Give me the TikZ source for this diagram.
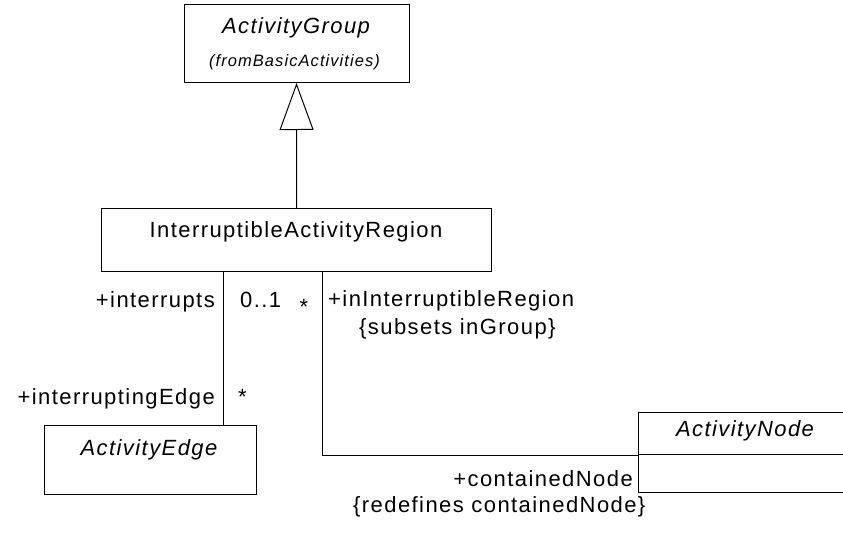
\documentclass[tikz,border=0pt]{standalone}
\usepackage{fontspec}
\setmainfont{Liberation Sans}[LetterSpace=6.5]
\usetikzlibrary{arrows.meta}
\newcommand\umlfont{\fontsize{22}{26}\selectfont}
\tikzset{>=Stealth,every node/.style={font=\umlfont,inner sep=0pt},txt/.style={anchor=base},abs/.style={anchor=base,font=\umlfont\itshape},cls/.style={draw,line width=1pt},assoc/.style={line width=1pt},gen/.style={line width=1pt,-{Triangle[open,length=47pt,width=34pt]}}}

\begin{document}
\begin{tikzpicture}[x=1pt,y=-1pt]
\useasboundingbox (0,0) rectangle (843,533);
\node[cls,minimum width=225pt,minimum height=78pt] (ag) at (296.5,43.5){};
\node[abs] (agname) at (296,33){ActivityGroup};
\node[abs,font=\fontsize{16.5}{20}\selectfont\itshape] (agpkg) at (294.5,66.7){(fromBasicActivities)};
\node[cls,minimum width=390pt,minimum height=63pt] (iar) at (296.7,240){};
\node[txt] (iarname) at (296,237.7){InterruptibleActivityRegion};
\node[cls,minimum width=212pt,minimum height=69pt] (ae) at (150.2,459.7){};
\node[abs] (aename) at (149,455){ActivityEdge};
\node[cls,minimum width=214pt,minimum height=42pt] (an) at (745,433){};
\node[cls,minimum width=214pt,minimum height=38pt] (anattr) at (745,473){};
\node[abs] (anname) at (745,436.7){ActivityNode};
\draw[gen] (iar.north) -- (ag.south);
\draw[assoc] (223,0 |- iar.south) -- (223,0 |- ae.north);
\draw[assoc] (322.3,0 |- iar.south) |- ([yshift=-2pt]anattr.north west);
\node[txt,anchor=base east] (lint) at (215,307){+interrupts};
\node[txt,anchor=base west] (lmulta) at (240,307){0..1};
\node[txt] (lstara) at (304,314){*};
\node[txt,anchor=base east] (ledge) at (215,404){+interruptingEdge};
\node[txt] (lstarb) at (242.5,404){*};
\node[txt,anchor=base west] (lreg) at (328,306){+inInterruptibleRegion};
\node[txt,anchor=base west] (lsub) at (359,334){\{subsets inGroup\}};
\node[txt,anchor=base east] (lnode) at (633,486){+containedNode};
\node[txt,anchor=base west] (lredef) at (353,512){\{redefines containedNode\}};
\end{tikzpicture}
\end{document}
